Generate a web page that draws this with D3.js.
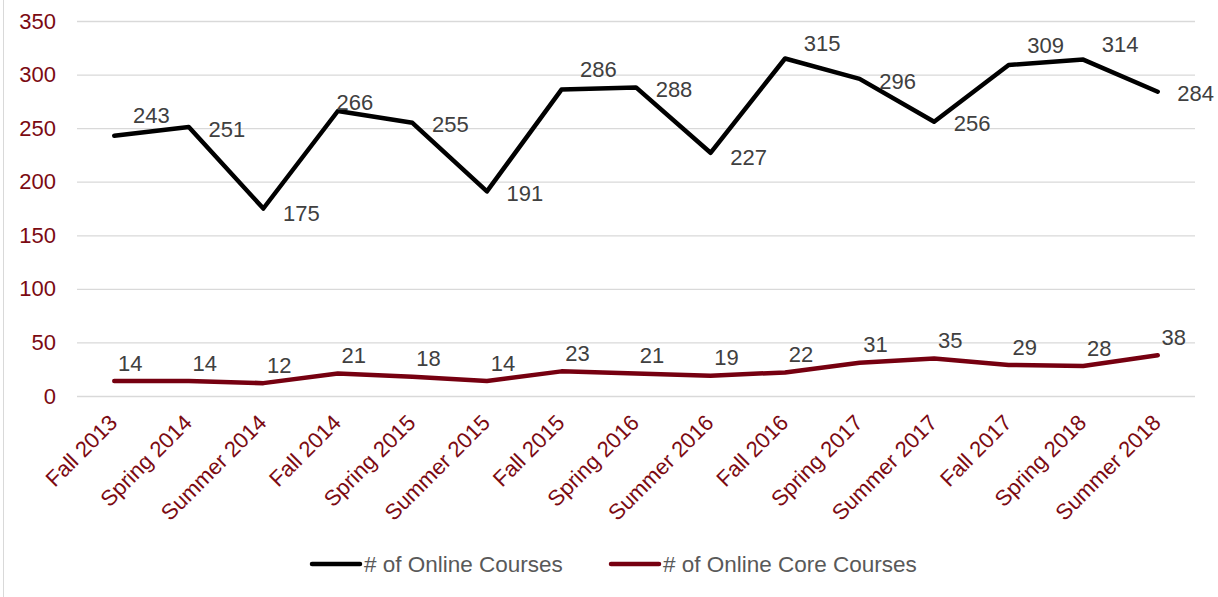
<!DOCTYPE html>
<html><head><meta charset="utf-8">
<script src="https://cdn.jsdelivr.net/npm/d3@7"></script>
<style>body{margin:0;background:#fff}svg{display:block;font-family:"Liberation Sans",Arial,sans-serif}</style>
</head><body><svg id="c" width="1218" height="597"></svg>
<script>
const categories = ["Fall 2013","Spring 2014","Summer 2014","Fall 2014","Spring 2015","Summer 2015","Fall 2015","Spring 2016","Summer 2016","Fall 2016","Spring 2017","Summer 2017","Fall 2017","Spring 2018","Summer 2018"];
const onlineCourses = [243,251,175,266,255,191,286,288,227,315,296,256,309,314,284];
const onlineCore = [14,14,12,21,18,14,23,21,19,22,31,35,29,28,38];
const yTicks = [0,50,100,150,200,250,300,350];
const seriesNames = ["# of Online Courses","# of Online Core Courses"];
const onlineLabelPlacement = ["aboveRight","right","rightLow","above","right","right","aboveRight","right","rightLow","upperRight","right","right","aboveRight","upperRight","right"];

const svg = d3.select("#c");
const L = 77, R = 1195, T = 21, B = 396;
const x = d3.scalePoint().domain(categories).range([L, R]).padding(0.5);
const y = d3.scaleLinear().domain([0, 350]).range([B, T]);
const axisRed = "#7B0A12", lblGrey = "#404040", FONT = "Liberation Sans, Arial, sans-serif";

svg.append("line").attr("x1",3.5).attr("x2",3.5).attr("y1",0).attr("y2",597).attr("stroke","#d9d9d9").attr("stroke-width",1);

// gridlines + y labels
const yAxis = d3.axisLeft(y).tickValues(yTicks).tickSize(-(R-L)).tickPadding(21);
const gy = svg.append("g").attr("transform",`translate(${L},0)`).call(yAxis);
gy.select(".domain").remove();
gy.selectAll(".tick line").attr("stroke","#d9d9d9").attr("stroke-width",1.3);
gy.selectAll(".tick text").attr("fill",axisRed).attr("font-size",22).attr("font-family",FONT);

// x axis labels
const xAxis = d3.axisBottom(x).tickSize(0).tickPadding(0);
const gx = svg.append("g").attr("transform",`translate(0,${B})`).call(xAxis);
gx.select(".domain").remove();
gx.selectAll(".tick text").attr("fill",axisRed).attr("font-size",22).attr("font-family",FONT)
  .attr("text-anchor","end").attr("dy",0).attr("transform","translate(4,28) rotate(-45)");

const line = d3.line().x((d,i)=>x(categories[i])).y(d=>y(d));
svg.append("path").datum(onlineCourses).attr("d",line).attr("fill","none").attr("stroke","#000").attr("stroke-width",4.5).attr("stroke-linejoin","round").attr("stroke-linecap","round");
svg.append("path").datum(onlineCore).attr("d",line).attr("fill","none").attr("stroke","#760010").attr("stroke-width",4.5).attr("stroke-linejoin","round").attr("stroke-linecap","round");

const off = {right:[38,2], rightLow:[38,5], aboveRight:[37,-20], upperRight:[37,-15], above:[17,-9], belowRight:[38,16]};
svg.append("g").selectAll("text").data(onlineCourses).join("text")
  .attr("x",(d,i)=>x(categories[i])+off[onlineLabelPlacement[i]][0])
  .attr("y",(d,i)=>y(d)+off[onlineLabelPlacement[i]][1])
  .attr("dy","0.35em").attr("text-anchor","middle").attr("font-size",22).attr("fill",lblGrey).text(d=>d);
svg.append("g").selectAll("text").data(onlineCore).join("text")
  .attr("x",(d,i)=>x(categories[i])+16)
  .attr("y",d=>y(d)-18)
  .attr("dy","0.35em").attr("text-anchor","middle").attr("font-size",22).attr("fill",lblGrey).text(d=>d);

// legend
const leg = svg.append("g");
const legItems = [{name:seriesNames[0],color:"#000",x:310},{name:seriesNames[1],color:"#760010",x:609}];
legItems.forEach(it=>{
  leg.append("line").attr("x1",it.x+2).attr("x2",it.x+50).attr("y1",564).attr("y2",564).attr("stroke",it.color).attr("stroke-width",4.5).attr("stroke-linecap","round");
  leg.append("text").attr("x",it.x+54).attr("y",564).attr("dy","0.35em").attr("font-size",22.5).attr("fill","#595959").text(it.name);
});
</script></body></html>
